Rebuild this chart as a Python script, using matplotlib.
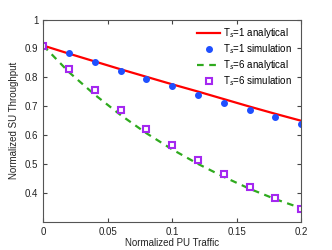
import matplotlib
matplotlib.use("Agg")
import matplotlib.pyplot as plt

traffic = [0, 0.02, 0.04, 0.06, 0.08, 0.1, 0.12, 0.14, 0.16, 0.18, 0.2]

ts1_analytical = [0.91, 0.882, 0.855, 0.828, 0.802, 0.776, 0.751, 0.725, 0.699, 0.674, 0.650]
ts1_simulation = [0.91, 0.883, 0.852, 0.823, 0.795, 0.769, 0.739, 0.711, 0.686, 0.664, 0.638]
ts6_analytical = [0.91, 0.818, 0.740, 0.670, 0.607, 0.551, 0.501, 0.456, 0.415, 0.379, 0.348]
ts6_simulation = [0.91, 0.828, 0.756, 0.686, 0.621, 0.567, 0.513, 0.467, 0.421, 0.382, 0.344]

xticks = [0, 0.05, 0.1, 0.15, 0.2]
yticks = [0.4, 0.5, 0.6, 0.7, 0.8, 0.9, 1]

plt.rcParams['font.family'] = ['Liberation Sans', 'DejaVu Sans']

fig = plt.figure(figsize=(3.32, 2.5), dpi=100)
ax = fig.add_axes([0.13, 0.112, 0.777, 0.81])

ax.plot(traffic, ts1_analytical, color='#ff0000', lw=1.6, label='T$_s$=1 analytical')
ax.plot(traffic, ts1_simulation, 'o', color='#1f4fff', ms=4, mec='#1f4fff', label='T$_s$=1 simulation')
ax.plot(traffic, ts6_analytical, '--', color='#2faa1e', lw=1.6, dashes=(3, 2.5), label='T$_s$=6 analytical')
ax.plot(traffic, ts6_simulation, 's', color='#a428f0', ms=4.5, mfc='white', mew=1.5, label='T$_s$=6 simulation')

ax.set_xlim(0, 0.2)
ax.set_ylim(0.3, 1)
ax.set_xticks(xticks)
ax.set_xticklabels(['0', '0.05', '0.1', '0.15', '0.2'])
ax.set_yticks(yticks)
ax.set_yticklabels(['0.4', '0.5', '0.6', '0.7', '0.8', '0.9', '1'])
ax.tick_params(direction='in', top=True, right=True, labelsize=7, length=3,
               colors='#444444', labelcolor='#222222')
for s in ax.spines.values():
    s.set_color('#555555')
    s.set_linewidth(0.8)

ax.set_xlabel('Normalized PU Traffic', fontsize=7, color='#222222', labelpad=1)
ax.set_ylabel('Normalized SU Throughput', fontsize=7, color='#222222', labelpad=4)

ax.legend(loc='upper right', frameon=False, fontsize=7, handlelength=2.3, numpoints=1,
          handletextpad=0.3, borderaxespad=0.3, labelspacing=0.2,
          bbox_to_anchor=(0.99, 1.0))

fig.savefig('out.png', dpi=100)
